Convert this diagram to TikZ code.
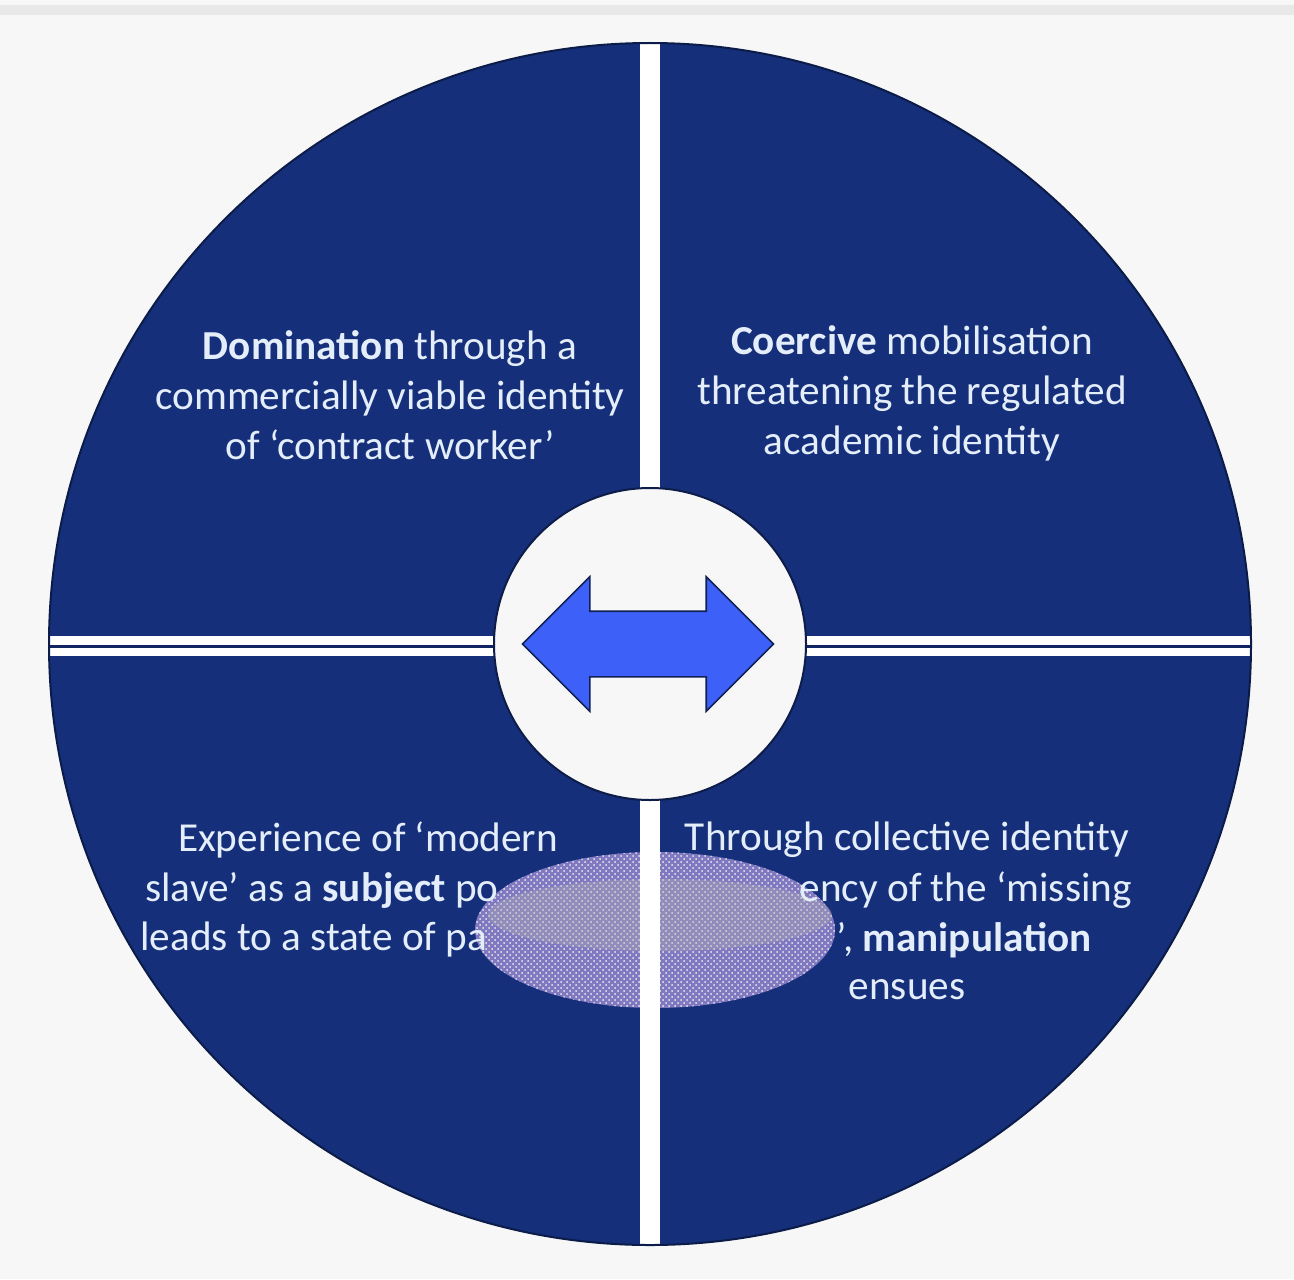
\documentclass[tikz,border=0pt]{standalone}
\usepackage{fontspec}
\setmainfont{Carlito}
\usetikzlibrary{shapes.arrows,patterns}
\definecolor{navy}{RGB}{21,47,122}
\definecolor{arrowblue}{RGB}{60,96,248}
\definecolor{txt}{RGB}{228,238,250}
\definecolor{bg}{RGB}{247,247,247}
\definecolor{blot}{RGB}{140,128,200}

\begin{document}
\begin{tikzpicture}[x=0.5pt,y=-0.5pt,
  every node/.style={text=txt,font=\fontsize{20.6}{25}\selectfont,inner sep=0pt},
  quad/.style={align=center},
  hub/.style={circle,fill=bg,draw=navy!60!black,line width=1pt,minimum size=156pt},
  twoway/.style={double arrow,fill=arrowblue,draw=navy!70!black,line width=0.8pt,
    inner xsep=0pt,inner ysep=16pt,minimum height=125.5pt,double arrow head extend=17.25pt}]

\fill[bg] (0,0) rectangle (1294,1279);
\useasboundingbox (0,0) rectangle (1294,1279);
\fill[gray!18] (0,5) rectangle (1294,15);

\coordinate (o) at (650,644);

% quadrants
\begin{scope}
\clip (o) circle [radius=300.5pt];
\fill[navy] (o) circle [radius=300.5pt];
\fill[blot,opacity=.9] (655,930) ellipse [x radius=90pt,y radius=39pt];
\fill[pattern=crosshatch dots,pattern color=white!85!gray] (655,930) ellipse [x radius=90pt,y radius=39pt];
\fill[gray!60,opacity=.35] (660,915) ellipse [x radius=86pt,y radius=18pt];
\fill[white] (640,0) rectangle (660,1279);
\fill[white] (0,636) rectangle (1294,656);
\fill[navy!80!black] (0,645) rectangle (1294,648);
\end{scope}
\draw[navy!60!black,line width=1pt] (o) circle [radius=300.5pt];

\node[hub] (mid) at (o) {};

\node[twoway] (arr) at (648,644) {};

\node[quad] (dom) at (390,395) {\textbf{Domination} through a\\commercially viable identity\\of ‘contract worker’};

\node[quad] (coe) at (912,393) {\textbf{Coercive} mobilisation\\threatening the regulated\\academic identity};

\node (exp1) at (368,840) {Experience of ‘modern};
\node[anchor=west] (exp2) at (145,890) {slave’ as a \textbf{subject} po};
\node[anchor=west] (exp3) at (140,940) {leads to a state of pa};

\node (col1) at (907,840) {Through collective identity};
\node[anchor=east] (col2) at (1132,890) {ency of the ‘missing};
\node[anchor=east] (col3) at (1092,940) {’, \textbf{manipulation}};
\node (col4) at (907,990) {ensues};
\end{tikzpicture}
\end{document}
